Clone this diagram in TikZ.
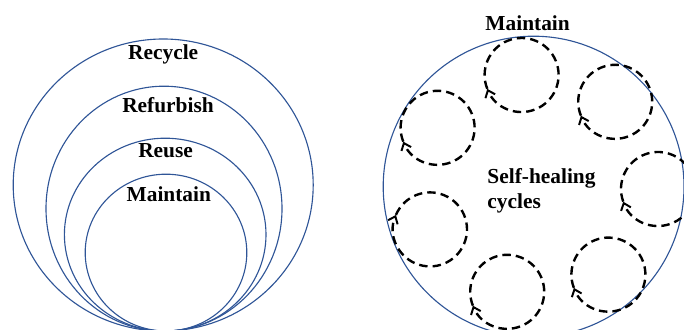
\documentclass[tikz,border=0pt]{standalone}
\usepackage{fontspec}
\setmainfont{Liberation Serif}
\usetikzlibrary{arrows.meta}

\begin{document}
\begin{tikzpicture}[x=1cm,y=1cm]
\definecolor{ringblue}{RGB}{47,85,151}
\tikzset{
  ring/.style={draw=ringblue,line width=0.8pt},
  healloop/.style={draw=black,line width=1.7pt,dash pattern=on 6pt off 3.6pt,-{Straight Barb[length=1.6mm,width=2.6mm,line width=1.4pt]}},
  tag/.style={font=\fontsize{15.2}{18}\selectfont\bfseries,inner sep=0pt,anchor=base}
}
\useasboundingbox (0,0) rectangle (17.10,8.225);
% nested rings
\coordinate (c_recycle) at (4.08,3.60);
\coordinate (c_refurbish) at (4.10,3.01);
\coordinate (c_reuse) at (4.13,2.36);
\coordinate (c_maintain) at (4.15,1.91);
\draw[ring] (c_recycle) ellipse[x radius=3.75,y radius=3.65];
\draw[ring] (c_refurbish) ellipse[x radius=2.95,y radius=3.06];
\draw[ring] (c_reuse) ellipse[x radius=2.52,y radius=2.41];
\draw[ring] (c_maintain) ellipse[x radius=2.02,y radius=1.96];
\node[tag] (t_recycle) at (4.08,6.725) {Recycle};
\node[tag] (t_refurbish) at (4.20,5.42) {Refurbish};
\node[tag] (t_reuse) at (4.14,4.28) {Reuse};
\node[tag] (t_maintain) at (4.22,3.18) {Maintain};
% self-healing side
\coordinate (c_big) at (13.34,3.56);
\draw[ring] (c_big) circle[radius=3.76];
\node[tag] (t_top) at (13.19,7.46) {Maintain};
\node[tag,anchor=base west] (t_self) at (12.18,3.64) {Self-healing};
\node[tag,anchor=base west] (t_cycles) at (12.18,3.02) {cycles};
\coordinate (h1) at (13.04,6.35);
\coordinate (h2) at (15.38,5.68);
\coordinate (h3) at (10.94,5.03);
\coordinate (h4) at (16.45,3.50);
\coordinate (h5) at (10.75,2.49);
\coordinate (h6) at (15.21,1.36);
\coordinate (h7) at (12.68,0.93);
\draw[healloop] (h1) ++(202:0.925) arc[start angle=202,delta angle=-360,radius=0.925];
\draw[healloop] (h2) ++(202:0.925) arc[start angle=202,delta angle=-360,radius=0.925];
\draw[healloop] (h3) ++(202:0.925) arc[start angle=202,delta angle=-360,radius=0.925];
\draw[healloop] (h4) ++(200:0.925) arc[start angle=200,delta angle=-360,radius=0.925];
\draw[healloop] (h5) ++(157:0.925) arc[start angle=157,delta angle=-360,radius=0.925];
\draw[healloop] (h6) ++(201:0.925) arc[start angle=201,delta angle=-360,radius=0.925];
\draw[healloop] (h7) ++(202:0.925) arc[start angle=202,delta angle=-360,radius=0.925];
\end{tikzpicture}
\end{document}
